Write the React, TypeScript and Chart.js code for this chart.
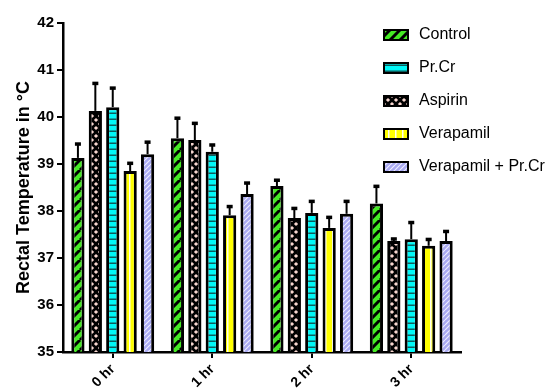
import React, { useEffect, useRef } from "react";
import { Chart, registerables } from "chart.js";

Chart.register(...registerables);

const categories = ["0 hr", "1 hr", "2 hr", "3 hr"];
const yTicks = [35, 36, 37, 38, 39, 40, 41, 42];

const controlMean = [39.13, 39.55, 38.53, 38.16];
const controlErr = [0.3, 0.43, 0.13, 0.37];
const aspirinMean = [40.13, 39.51, 37.85, 37.36];
const aspirinErr = [0.59, 0.36, 0.21, 0.05];
const prcrMean = [40.21, 39.26, 37.96, 37.4];
const prcrErr = [0.41, 0.15, 0.25, 0.36];
const verapamilMean = [38.85, 37.91, 37.64, 37.26];
const verapamilErr = [0.17, 0.19, 0.23, 0.14];
const vpMean = [39.21, 38.36, 37.94, 37.36];
const vpErr = [0.26, 0.24, 0.27, 0.21];

const legendOrder = ["Control", "Pr.Cr", "Aspirin", "Verapamil", "Verapamil + Pr.Cr"];

const FONT = "'Liberation Sans', Arial, Helvetica, sans-serif";

function makePattern(w: number, h: number, draw: (c: CanvasRenderingContext2D) => void) {
  const cv = document.createElement("canvas");
  cv.width = w;
  cv.height = h;
  const c = cv.getContext("2d")!;
  draw(c);
  return c.createPattern(cv, "repeat")!;
}

function diagStripes(bg: string, fg: string, size: number, lw: number) {
  return makePattern(size, size, (c) => {
    c.fillStyle = bg;
    c.fillRect(0, 0, size, size);
    c.strokeStyle = fg;
    c.lineWidth = lw;
    c.beginPath();
    for (const o of [-size, 0, size]) {
      c.moveTo(o, size);
      c.lineTo(o + size, 0);
    }
    c.stroke();
  });
}

function buildPatterns() {
  const control = diagStripes("#45ea24", "#000000", 10, 3);
  const vp = diagStripes("#aaaaf2", "#eeeeff", 5, 1.2);
  const prcr = makePattern(6, 6, (c) => {
    c.fillStyle = "#00f8f8";
    c.fillRect(0, 0, 6, 6);
    c.fillStyle = "#0b5d5d";
    c.fillRect(0, 4.5, 6, 1.5);
  });
  const verapamil = makePattern(7, 7, (c) => {
    c.fillStyle = "#ffff00";
    c.fillRect(0, 0, 7, 7);
    c.fillStyle = "#fffff0";
    c.fillRect(3, 0, 1.5, 7);
  });
  const aspirin = makePattern(8, 8, (c) => {
    c.fillStyle = "#000000";
    c.fillRect(0, 0, 8, 8);
    c.fillStyle = "#f7d6cf";
    const dia = (x: number, y: number, r: number) => {
      c.beginPath();
      c.moveTo(x, y - r);
      c.lineTo(x + r, y);
      c.lineTo(x, y + r);
      c.lineTo(x - r, y);
      c.closePath();
      c.fill();
    };
    dia(4, 4, 2.1);
    dia(0, 0, 2.1);
    dia(8, 0, 2.1);
    dia(0, 8, 2.1);
    dia(8, 8, 2.1);
  });
  return { control, vp, prcr, verapamil, aspirin };
}

const errorBarPlugin = {
  id: "errorBars",
  afterDatasetsDraw(chart: any) {
    const ctx = chart.ctx;
    const yScale = chart.scales.y;
    chart.data.datasets.forEach((ds: any, i: number) => {
      const meta = chart.getDatasetMeta(i);
      meta.data.forEach((el: any, j: number) => {
        const v = ds.data[j];
        const e = ds.errors[j];
        const yTop = yScale.getPixelForValue(v);
        const yErr = yScale.getPixelForValue(v + e);
        ctx.save();
        ctx.strokeStyle = "#000";
        ctx.lineWidth = 2;
        ctx.beginPath();
        ctx.moveTo(el.x, yTop);
        ctx.lineTo(el.x, yErr);
        ctx.stroke();
        ctx.fillStyle = "#000";
        ctx.fillRect(el.x - 3, yErr - 1.5, 6, 3.5);
        ctx.restore();
      });
    });
  },
};

const customLegendPlugin = {
  id: "customLegend",
  afterDraw(chart: any) {
    const ctx = chart.ctx;
    const x0 = 384;
    const y0 = 35;
    const gap = 33;
    legendOrder.forEach((label, k) => {
      const ds = chart.data.datasets.find((d: any) => d.label === label);
      if (!ds) return;
      const cy = y0 + k * gap;
      ctx.save();
      ctx.fillStyle = ds.backgroundColor;
      ctx.fillRect(x0, cy - 5, 24, 10);
      ctx.strokeStyle = "#000";
      ctx.lineWidth = 2;
      ctx.strokeRect(x0, cy - 5, 24, 10);
      ctx.fillStyle = "#000";
      ctx.font = `16px ${FONT}`;
      ctx.textBaseline = "middle";
      ctx.textAlign = "left";
      ctx.fillText(label, 419, cy);
      ctx.restore();
    });
  },
};

export default function App() {
  const ref = useRef<HTMLCanvasElement | null>(null);

  useEffect(() => {
    if (!ref.current) return;
    const p = buildPatterns();
    const mk = (label: string, data: number[], errors: number[], bg: any) => ({
      label,
      data,
      errors,
      backgroundColor: bg,
      borderColor: "#000",
      borderWidth: 3,
      borderSkipped: false,
      categoryPercentage: 0.875,
      barPercentage: 0.76,
    });
    const chart = new Chart(ref.current, {
      type: "bar",
      data: {
        labels: categories,
        datasets: [
          mk("Control", controlMean, controlErr, p.control),
          mk("Aspirin", aspirinMean, aspirinErr, p.aspirin),
          mk("Pr.Cr", prcrMean, prcrErr, p.prcr),
          mk("Verapamil", verapamilMean, verapamilErr, p.verapamil),
          mk("Verapamil + Pr.Cr", vpMean, vpErr, p.vp),
        ] as any,
      },
      options: {
        responsive: false,
        animation: false,
        devicePixelRatio: 1,
        layout: { padding: { left: 0, right: 94, top: 23, bottom: 0 } },
        plugins: {
          legend: { display: false },
          tooltip: { enabled: false },
        },
        scales: {
          x: {
            grid: {
              offset: false,
              drawOnChartArea: false,
              drawTicks: true,
              tickLength: 6,
              color: "#000",
              lineWidth: 2,
            },
            border: { display: true, color: "#000", width: 2.5 },
            ticks: {
              color: "#000",
              font: { family: FONT, size: 14, weight: "bold" },
              maxRotation: 45,
              minRotation: 45,
              padding: 3,
            },
            afterFit: (s: any) => {
              s.height = 37;
            },
          },
          y: {
            min: yTicks[0],
            max: yTicks[yTicks.length - 1],
            afterBuildTicks: (s: any) => {
              s.ticks = yTicks.map((v) => ({ value: v }));
            },
            grid: {
              drawOnChartArea: false,
              drawTicks: true,
              tickLength: 6,
              color: "#000",
              lineWidth: 2,
            },
            border: { display: true, color: "#000", width: 2.5 },
            ticks: {
              color: "#000",
              font: { family: FONT, size: 15, weight: "bold" },
              padding: 3,
            },
            title: {
              display: true,
              text: "Rectal Temperature in °C",
              color: "#000",
              font: { family: FONT, size: 18, weight: "bold" },
              padding: { top: 13, bottom: 0 },
            },
            afterFit: (s: any) => {
              s.width = 63;
            },
          },
        },
      } as any,
      plugins: [errorBarPlugin, customLegendPlugin],
    });
    return () => chart.destroy();
  }, []);

  return (
    <div style={{ position: "fixed", left: 0, top: 0, width: 555, height: 389, background: "#fff" }}>
      <canvas ref={ref} width={555} height={389} />
    </div>
  );
}
